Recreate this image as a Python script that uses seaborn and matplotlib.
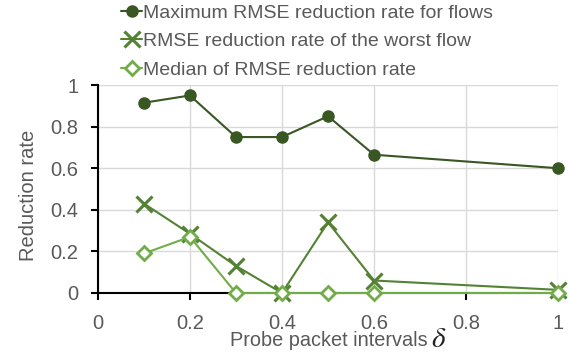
import matplotlib
matplotlib.use("Agg")
import matplotlib.pyplot as plt
import seaborn as sns
import pandas as pd

intervals = [0.1, 0.2, 0.3, 0.4, 0.5, 0.6, 1.0]
max_rate = [0.915, 0.95, 0.75, 0.75, 0.85, 0.665, 0.60]
worst_rate = [0.43, 0.285, 0.13, 0.0, 0.34, 0.06, 0.015]
median_rate = [0.19, 0.27, 0.0, 0.0, 0.0, 0.0, 0.0]
series_names = ["Maximum RMSE reduction rate for flows",
                "RMSE reduction rate of the worst flow",
                "Median of RMSE reduction rate"]
x_ticks = [0, 0.2, 0.4, 0.6, 0.8, 1]
x_tick_labels = ["0", "0.2", "0.4", "0.6", "0.8", "1"]
y_ticks = [0, 0.2, 0.4, 0.6, 0.8, 1]
y_tick_labels = ["0", "0.2", "0.4", "0.6", "0.8", "1"]

sns.set_theme(style="whitegrid")
plt.rcParams['font.family'] = ['Liberation Sans', 'DejaVu Sans']
plt.rcParams['mathtext.fontset'] = 'stix'

df = pd.DataFrame({
    "x": intervals * 3,
    "y": max_rate + worst_rate + median_rate,
    "series": [series_names[0]] * 7 + [series_names[1]] * 7 + [series_names[2]] * 7,
})

colors = ["#385723", "#548235", "#70AD47"]
text_color = "#595959"

W, H = 569, 353
fig = plt.figure(figsize=(W / 100, H / 100), dpi=100)
ax = fig.add_axes([0.172, 0.170, 0.809, 0.589])

styles = [
    dict(marker="o", markersize=8, mfc=colors[0], mec=colors[0], mew=1),
    dict(marker="x", markersize=11, mfc=colors[1], mec=colors[1], mew=2.2),
    dict(marker="D", markersize=7, mfc="white", mec=colors[2], mew=2),
]
for i, name in enumerate(series_names):
    sub = df[df["series"] == name]
    sns.lineplot(data=sub, x="x", y="y", ax=ax, color=colors[i], lw=1.5,
                 label=name, zorder=3 + i, **styles[i])

ax.set_xlim(0, 1)
ax.set_ylim(0, 1)
ax.set_xticks(x_ticks)
ax.set_xticklabels(x_tick_labels)
ax.set_yticks(y_ticks)
ax.set_yticklabels(y_tick_labels)
for a in ax.get_xticklabels() + ax.get_yticklabels():
    a.set_color(text_color)
    a.set_fontsize(14.5)
ax.grid(True, color="#D9D9D9", lw=1)
for s in ["top", "right"]:
    ax.spines[s].set_visible(False)
for s in ["left", "bottom"]:
    ax.spines[s].set_visible(True)
    ax.spines[s].set_color("black")
    ax.spines[s].set_linewidth(1.5)
    ax.spines[s].set_zorder(2)
ax.tick_params(axis="both", which="major", direction="out", length=5, width=1.5,
               color="black", bottom=True, left=True)
ax.tick_params(axis="x", pad=10)
ax.tick_params(axis="y", pad=9)
ax.set_xlabel("")
ax.set_ylabel("")

# axis titles
fig.text(230 / W, 1 - 346 / H, "Probe packet intervals", color=text_color,
         fontsize=14.3, ha="left", va="baseline")
fig.text(431 / W, 1 - 347 / H, "$\\delta$", color="#222222",
         fontsize=21, ha="left", va="baseline")
fig.text(28 / W, 1 - 195 / H, "Reduction rate", color=text_color,
         fontsize=14.5, rotation=90, ha="center", va="center")

leg = ax.legend(loc="upper left", bbox_to_anchor=(121 / W, 1 - 4 / H),
                bbox_transform=fig.transFigure, frameon=False,
                fontsize=14, handlelength=1.1, handletextpad=0.05,
                labelspacing=0.56, borderaxespad=0, borderpad=0)
for t in leg.get_texts():
    t.set_color(text_color)
for line in ax.lines:
    line.set_clip_on(False)

fig.savefig("out.png", dpi=100, facecolor="white")
